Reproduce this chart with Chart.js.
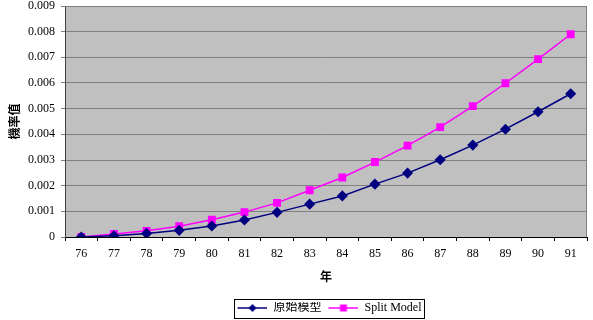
<!DOCTYPE html>
<html>
<head>
<meta charset="utf-8">
<script src="https://cdn.jsdelivr.net/npm/chart.js@4/dist/chart.umd.min.js"></script>
<style>
  html, body { margin: 0; padding: 0; background: #fff; }
  #wrap { width: 593px; height: 320px; }
</style>
</head>
<body>
<div id="wrap"><canvas id="chart"></canvas></div>
<script>
// Données
const years = ['76', '77', '78', '79', '80', '81', '82', '83', '84', '85', '86', '87', '88', '89', '90', '91'];
const originalModel = [0, 0.00005, 0.00014, 0.00026, 0.00043, 0.00066, 0.00096, 0.00128, 0.0016, 0.00206, 0.00249, 0.00301, 0.00358, 0.0042, 0.00488, 0.00558];
const splitModel = [0, 0.00012, 0.00024, 0.00042, 0.00067, 0.00097, 0.00133, 0.00182, 0.00232, 0.00292, 0.00356, 0.00428, 0.0051, 0.00599, 0.00693, 0.0079];
const yTickLabels = ['0', '0.001', '0.002', '0.003', '0.004', '0.005', '0.006', '0.007', '0.008', '0.009'];

const serif = '"Liberation Serif", "Times New Roman", serif';
const cjk = '"Noto Sans CJK TC", "Noto Sans CJK SC", sans-serif';
const bottomPad = -4;

// Petit dessin ligne + marqueur pour la légende (7px vides à gauche = espace entre items)
function legendIcon(color, shape) {
    const c = document.createElement('canvas');
    c.width = 37;
    c.height = 10;
    const g = c.getContext('2d');
    g.strokeStyle = color;
    g.lineWidth = 1.5;
    g.beginPath();
    g.moveTo(7, 5);
    g.lineTo(37, 5);
    g.stroke();
    g.fillStyle = color;
    g.beginPath();
    if (shape === 'diamond') {
        g.moveTo(22, 1); g.lineTo(26, 5); g.lineTo(22, 9); g.lineTo(18, 5);
    } else {
        g.rect(18.5, 1.5, 7, 7);
    }
    g.closePath();
    g.fill();
    return c;
}

// Fond gris + cadre de la zone du graphique, cadre de la légende
const framePlugin = {
    id: 'frame',
    beforeDraw(chart) {
        const { ctx, chartArea: a } = chart;
        ctx.save();
        ctx.fillStyle = '#c0c0c0';
        ctx.fillRect(a.left, a.top, a.right - a.left, a.bottom - a.top);
        ctx.restore();
    },
    afterDraw(chart) {
        const { ctx, chartArea: a } = chart;
        ctx.save();
        ctx.strokeStyle = '#808080';
        ctx.lineWidth = 1;
        ctx.beginPath();
        ctx.moveTo(a.left, a.top + 0.5);
        ctx.lineTo(a.right - 0.5, a.top + 0.5);
        ctx.lineTo(a.right - 0.5, a.bottom);
        ctx.stroke();

        const boxes = chart.legend.legendHitBoxes;
        if (boxes && boxes.length) {
            const last = boxes[boxes.length - 1];
            const x0 = boxes[0].left + 7 - 3;
            const x1 = last.left + last.width + 3;
            const y0 = boxes[0].top - 3;
            const y1 = boxes[0].top + boxes[0].height + 4;
            ctx.strokeStyle = '#000';
            ctx.strokeRect(Math.round(x0) + 0.5, Math.round(y0) + 0.5, Math.round(x1 - x0), Math.round(y1 - y0));
        }
        ctx.restore();
    }
};

function initChart() {
    const ctx = document.getElementById('chart').getContext('2d');
    new Chart(ctx, {
        type: 'line',
        data: {
            labels: years,
            datasets: [
                {
                    label: '原始模型',
                    data: originalModel,
                    borderColor: '#000080',
                    backgroundColor: '#000080',
                    borderWidth: 1.5,
                    pointStyle: 'rectRot',
                    pointRadius: 4.5,
                    pointHoverRadius: 4.5,
                    tension: 0
                },
                {
                    label: 'Split Model',
                    data: splitModel,
                    borderColor: '#ff00ff',
                    backgroundColor: '#ff00ff',
                    borderWidth: 1.5,
                    pointStyle: 'rect',
                    pointRadius: 4.5,
                    pointHoverRadius: 4.5,
                    tension: 0
                }
            ]
        },
        options: {
            responsive: true,
            maintainAspectRatio: false,
            animation: false,
            layout: { padding: { top: 0, right: 1, left: 0, bottom: bottomPad } },
            plugins: {
                tooltip: { enabled: false },
                legend: {
                    position: 'bottom',
                    fullSize: false,
                    labels: {
                        usePointStyle: true,
                        pointStyleWidth: 37,
                        padding: 0,
                        color: '#000',
                        font: { family: serif + ', ' + cjk, size: 12 },
                        generateLabels(chart) {
                            return chart.data.datasets.map((ds, i) => ({
                                text: ds.label,
                                pointStyle: legendIcon(ds.borderColor, i === 0 ? 'diamond' : 'square'),
                                fillStyle: ds.borderColor,
                                strokeStyle: ds.borderColor,
                                lineWidth: 0,
                                fontColor: '#000',
                                datasetIndex: i
                            }));
                        }
                    }
                }
            },
            scales: {
                x: {
                    offset: true,
                    // hauteur fixe : le bas du graphique tombe à y = 238
                    afterFit(scale) {
                        const legendH = (scale.chart.legend && scale.chart.legend.height) || 21;
                        scale.height = 320 - bottomPad - 238 - legendH;
                    },
                    grid: {
                        offset: true,
                        drawOnChartArea: false,
                        drawTicks: true,
                        tickLength: 4,
                        color: '#000'
                    },
                    border: { color: '#000', width: 1 },
                    ticks: {
                        color: '#000',
                        padding: 6,
                        maxRotation: 0,
                        font: { family: serif, size: 12 }
                    },
                    title: {
                        display: true,
                        text: '年',
                        color: '#000',
                        padding: { top: 4, bottom: 18 },
                        font: { family: cjk, size: 12, weight: 'bold' }
                    }
                },
                y: {
                    min: 0,
                    max: 0.009,
                    afterFit(scale) {
                        scale.width = 65;
                        scale.paddingTop = 6;
                    },
                    grid: {
                        color: '#7f7f7f',
                        tickLength: 4,
                        drawTicks: true
                    },
                    border: { color: '#404040', width: 1 },
                    ticks: {
                        stepSize: 0.001,
                        color: '#000',
                        padding: 6,
                        font: { family: serif, size: 12 },
                        callback: (v, i) => yTickLabels[i]
                    },
                    title: {
                        display: true,
                        text: '機率值',
                        color: '#000',
                        padding: { top: 7, bottom: 4 },
                        font: { family: cjk, size: 12, weight: 'bold' }
                    }
                }
            }
        },
        plugins: [framePlugin]
    });
}

document.addEventListener('DOMContentLoaded', initChart);
</script>
</body>
</html>
